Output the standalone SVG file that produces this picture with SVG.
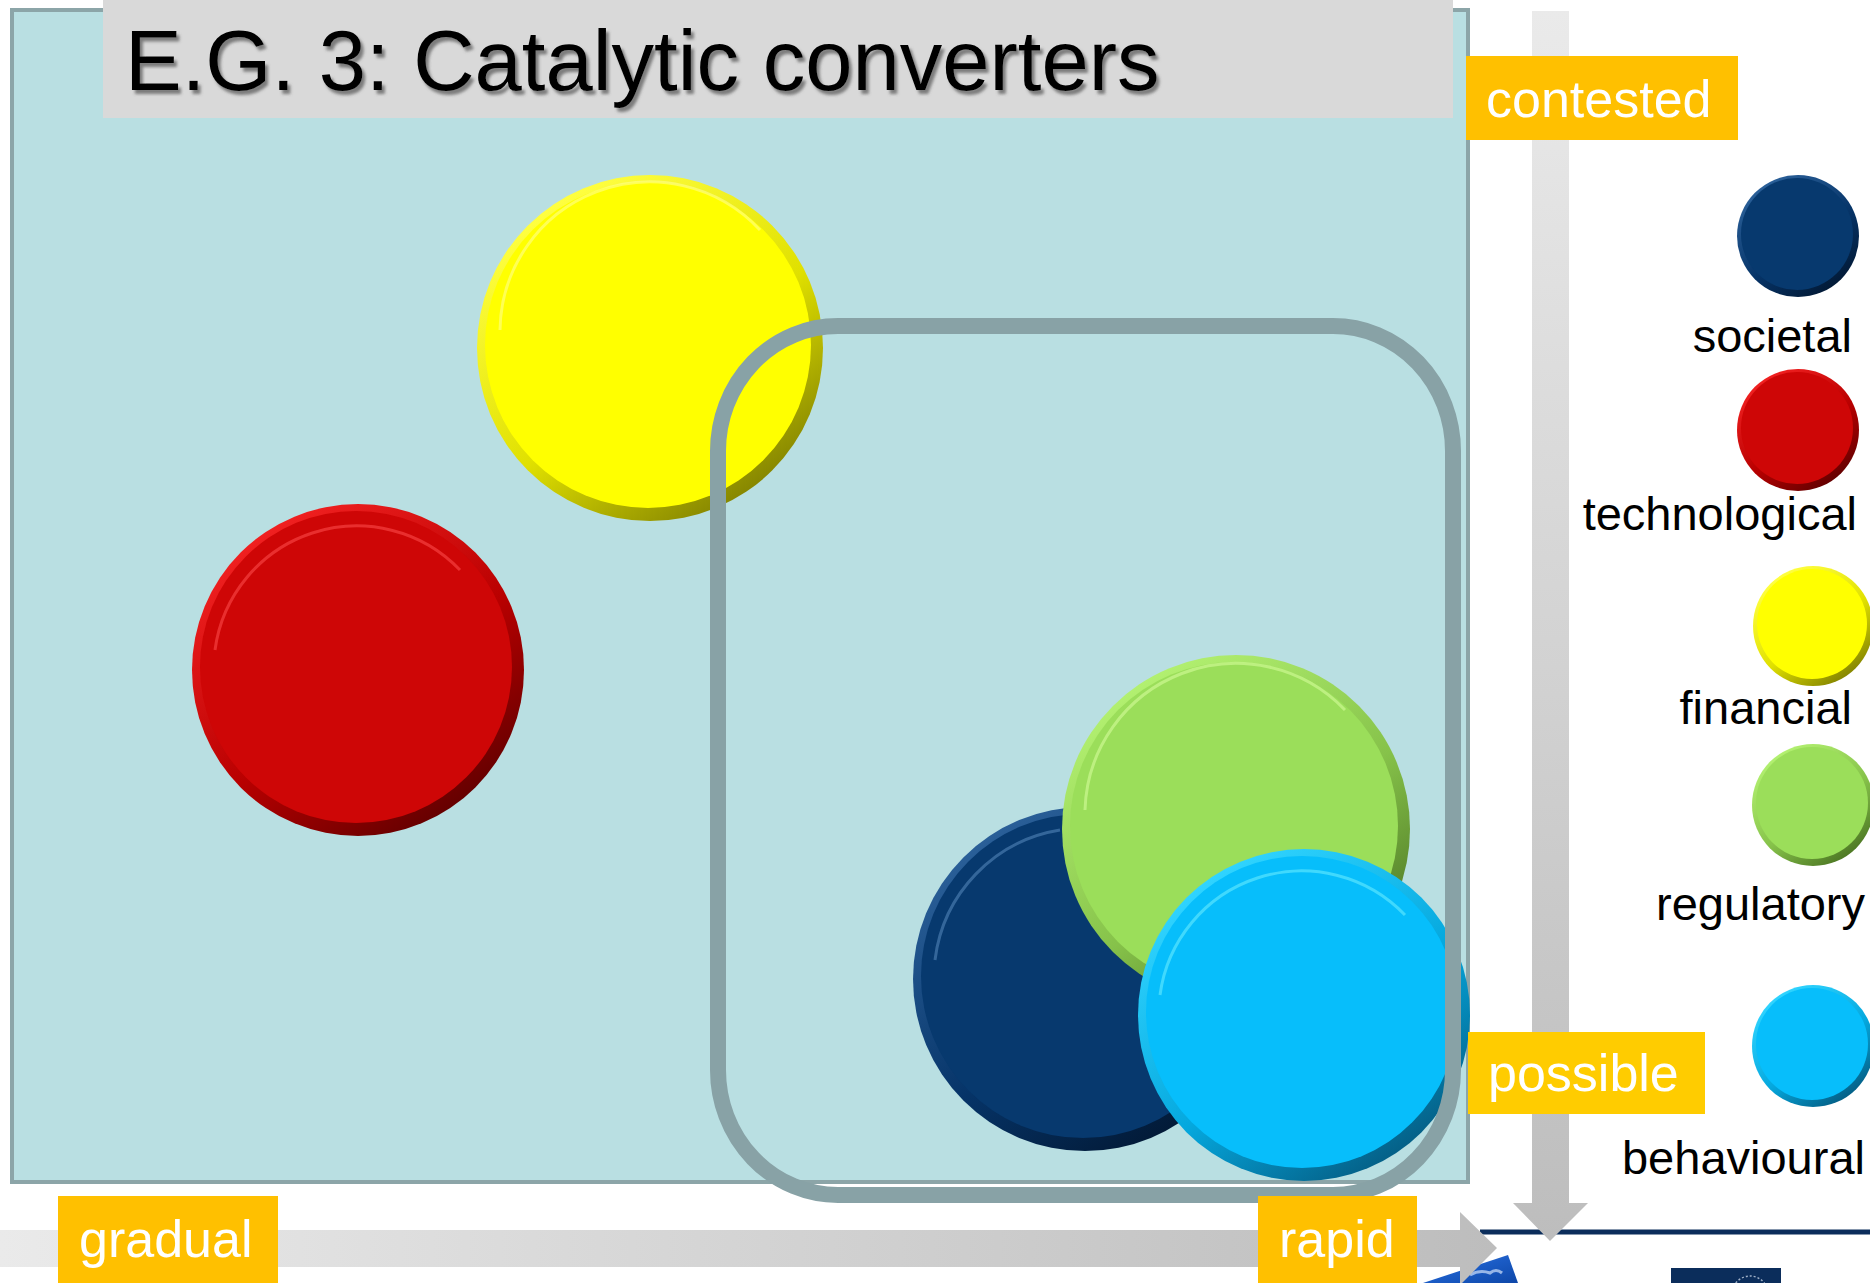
<svg xmlns="http://www.w3.org/2000/svg" width="1870" height="1283" viewBox="0 0 1870 1283">
<defs>
<style>
.lbl{font-family:"Liberation Sans",Arial,sans-serif;font-size:52px;fill:#FFFFFF}
.leg{font-family:"Liberation Sans",Arial,sans-serif;font-size:47px;fill:#000000;text-anchor:end}
.title{font-family:"Liberation Sans",Arial,sans-serif;font-size:85px;fill:#000000}
.box{fill:#FFC000}
.hl{fill:none;stroke-width:3;opacity:0.55}
</style>
<linearGradient id="rimY" x1="0.2" y1="0.1" x2="0.8" y2="0.95"><stop offset="0" stop-color="#FFFF40"/><stop offset="0.55" stop-color="#E0E000"/><stop offset="1" stop-color="#7F7F00"/></linearGradient>
<linearGradient id="rimR" x1="0.2" y1="0.1" x2="0.8" y2="0.95"><stop offset="0" stop-color="#F02020"/><stop offset="0.55" stop-color="#B80000"/><stop offset="1" stop-color="#5E0000"/></linearGradient>
<linearGradient id="rimN" x1="0.2" y1="0.1" x2="0.8" y2="0.95"><stop offset="0" stop-color="#2A5F98"/><stop offset="0.55" stop-color="#063468"/><stop offset="1" stop-color="#021833"/></linearGradient>
<linearGradient id="rimG" x1="0.2" y1="0.1" x2="0.8" y2="0.95"><stop offset="0" stop-color="#B2F070"/><stop offset="0.55" stop-color="#86C24A"/><stop offset="1" stop-color="#4A7322"/></linearGradient>
<linearGradient id="rimB" x1="0.2" y1="0.1" x2="0.8" y2="0.95"><stop offset="0" stop-color="#30D4FF"/><stop offset="0.55" stop-color="#05A8DE"/><stop offset="1" stop-color="#045A80"/></linearGradient>
<linearGradient id="vgrad" x1="0" y1="0" x2="0" y2="1"><stop offset="0" stop-color="#EAEAEA"/><stop offset="1" stop-color="#BDBDBD"/></linearGradient>
<linearGradient id="hgrad" x1="0" y1="0" x2="1" y2="0"><stop offset="0" stop-color="#EAEAEA"/><stop offset="1" stop-color="#BDBDBD"/></linearGradient>
<linearGradient id="sky" x1="0" y1="0" x2="1" y2="1"><stop offset="0" stop-color="#5C8FE0"/><stop offset="0.5" stop-color="#1B5CC6"/><stop offset="1" stop-color="#0E47A8"/></linearGradient>
<filter id="tshadow" x="-5%" y="-20%" width="110%" height="150%"><feDropShadow dx="3" dy="4" stdDeviation="1.5" flood-color="#555555" flood-opacity="0.7"/></filter>
</defs>

<g id="background">
<rect x="0" y="0" width="1870" height="1283" fill="#FFFFFF"/>
<rect id="panel" x="12" y="10" width="1456" height="1172" fill="#B9DFE2" stroke="#8CA5A8" stroke-width="4"/>
</g>

<g id="footer">
<polygon points="1423,1283 1508,1255 1518,1283" fill="url(#sky)"/>
<path d="M1470,1275 q10,-6 20,-2 q6,-5 12,0" fill="none" stroke="#CFE0FA" stroke-width="3" opacity="0.7"/>
<rect x="1480" y="1229.5" width="390" height="5" fill="#0B2D5B"/>
<rect x="1671" y="1268" width="110" height="15" fill="#0B2D5B"/>
<circle cx="1750" cy="1294" r="18" fill="none" stroke="#9FB0C8" stroke-width="1.5" stroke-dasharray="2 2"/>
</g>

<g id="title">
<rect x="103" y="0" width="1350" height="118" fill="#D9D9D9"/>
<text class="title" x="125" y="90" filter="url(#tshadow)">E.G. 3: Catalytic converters</text>
</g>

<g id="financial-node">
<circle cx="650" cy="348" r="173" fill="url(#rimY)"/>
<circle cx="648" cy="345" r="163" fill="#FFFF00"/>
<path class="hl" d="M500,330 A150,150 0 0 1 760,230" stroke="#FFFF99"/>
</g>
<g id="technological-node">
<circle cx="358" cy="670" r="166" fill="url(#rimR)"/>
<circle cx="356" cy="667" r="156" fill="#CE0606"/>
<path class="hl" d="M215,650 A143,143 0 0 1 460,570" stroke="#FF5050"/>
</g>
<g id="societal-node">
<circle cx="1085" cy="979" r="172" fill="url(#rimN)"/>
<circle cx="1083" cy="976" r="162" fill="#07396E"/>
<path class="hl" d="M935,960 A150,150 0 0 1 1060,830" stroke="#5A8CC0"/>
</g>
<g id="regulatory-node">
<circle cx="1236" cy="829" r="174" fill="url(#rimG)"/>
<circle cx="1234" cy="826" r="164" fill="#9BDE5A"/>
<path class="hl" d="M1085,810 A151,151 0 0 1 1345,710" stroke="#D8FFA0"/>
</g>
<g id="behavioural-node">
<circle cx="1304" cy="1015" r="166" fill="url(#rimB)"/>
<circle cx="1302" cy="1012" r="156" fill="#07BEFB"/>
<path class="hl" d="M1160,995 A143,143 0 0 1 1405,915" stroke="#70EEFF"/>
</g>

<g id="connectors">
<rect id="possible-zone" x="718" y="326" width="735" height="869" rx="120" ry="125" fill="none" stroke="#88A2A6" stroke-width="16"/>
<polygon id="axis-vertical" points="1532,11 1569,11 1569,1203 1588,1203 1550,1241 1513,1203 1532,1203" fill="url(#vgrad)"/>
<polygon id="axis-horizontal" points="0,1230 1460,1230 1460,1212 1497,1248 1460,1285 1460,1267 0,1267" fill="url(#hgrad)"/>
</g>

<g id="axis-labels">
<g id="label-contested"><rect class="box" x="1466" y="56" width="272" height="84"/><text class="lbl" x="1486" y="117">contested</text></g>
<g id="label-possible"><rect x="1468" y="1032" width="237" height="82" fill="#FFCC00"/><text class="lbl" x="1488" y="1091">possible</text></g>
<g id="label-gradual"><rect class="box" x="58" y="1196" width="220" height="87"/><text class="lbl" x="79" y="1257">gradual</text></g>
<g id="label-rapid"><rect class="box" x="1258" y="1196" width="159" height="87"/><text class="lbl" x="1279" y="1257">rapid</text></g>
</g>

<g id="legend">
<g id="legend-societal"><circle cx="1798" cy="236" r="61" fill="url(#rimN)"/><circle cx="1797" cy="234" r="56" fill="#07396E"/><text class="leg" x="1852" y="352">societal</text></g>
<g id="legend-technological"><circle cx="1798" cy="430" r="61" fill="url(#rimR)"/><circle cx="1797" cy="428" r="56" fill="#CE0606"/><text class="leg" x="1857" y="530">technological</text></g>
<g id="legend-financial"><circle cx="1813" cy="626" r="60" fill="url(#rimY)"/><circle cx="1812" cy="624" r="55" fill="#FFFF00"/><text class="leg" x="1852" y="724">financial</text></g>
<g id="legend-regulatory"><circle cx="1813" cy="805" r="61" fill="url(#rimG)"/><circle cx="1812" cy="803" r="56" fill="#9BDE5A"/><text class="leg" x="1865" y="920">regulatory</text></g>
<g id="legend-behavioural"><circle cx="1813" cy="1046" r="61" fill="url(#rimB)"/><circle cx="1812" cy="1044" r="56" fill="#07BEFB"/><text class="leg" x="1865" y="1174">behavioural</text></g>
</g>
</svg>
